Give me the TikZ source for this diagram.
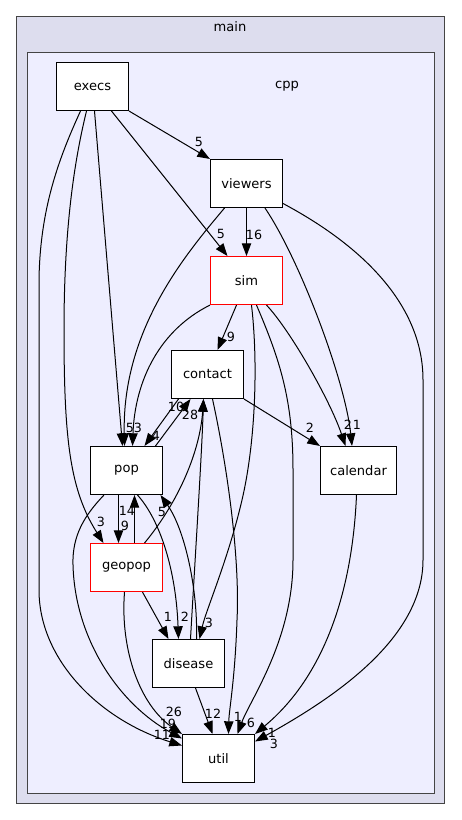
\documentclass[tikz,border=0pt]{standalone}
\usepackage{fontspec}
\setmainfont{DejaVu Sans}
\usetikzlibrary{positioning, arrows.meta, calc}

\definecolor{mainfill}{HTML}{DDDDEE}
\definecolor{cppfill}{HTML}{EEEEFF}
\definecolor{clusterline}{HTML}{444444}

\begin{document}
\begin{tikzpicture}[
    x=0.75pt, y=-0.75pt, %% one unit is one pixel, y runs down
    node distance=36pt and 30pt,
    dirbox/.style={
        rectangle,
        draw=black,
        line width=0.8pt,
        fill=white,
        font=\fontsize{9.8}{11}\selectfont,
        minimum width=54pt,
        minimum height=36pt,
        inner sep=2pt
    },
    redbox/.style={
        dirbox,
        draw=red
    },
    cluster/.style={
        draw=clusterline,
        line width=1pt
    },
    dep/.style={
        -{Triangle[length=9.5pt,width=7pt]},
        line width=0.75pt
    },
    lbl/.style={
        font=\fontsize{9.5}{10}\selectfont,
        inner sep=0pt
    }
]

\useasboundingbox (0,0) rectangle (461,820);

%% Clusters
\draw[cluster, fill=mainfill] (16.5,16.5) rectangle (444.5,803.5);
\node[lbl, font=\fontsize{9.8}{11}\selectfont] (mainlbl) at (230,27) {main};
\draw[cluster, fill=cppfill] (27.5,52.5) rectangle (434.5,793.5);
\node[lbl, font=\fontsize{9.8}{11}\selectfont] (cpplbl) at (287,86) {cpp};

%% Directory Nodes
\node[dirbox] (execs) at (92.5,86.5) {execs};
\node[dirbox] (viewers) at (246.5,183.5) {viewers};
\node[redbox, below=of viewers] (sim) {sim};
\node[dirbox] (contact) at (207.5,374.5) {contact};
\node[dirbox] (pop) at (126.5,470.5) {pop};
\node[dirbox, minimum width=57pt] (calendar) at (358.5,470.5) {calendar};
\node[redbox, below=of pop] (geopop) {geopop};
\node[dirbox] (disease) at (188.5,663.5) {disease};
\node[dirbox] (util) at (218.5,758.5) {util};

%% From execs
\draw[dep] (execs.south east) -- (viewers.north west) node[lbl] at (199,142) {5};
\draw[dep] ($(execs.south)+(19,0)$) -- ($(sim.north)+(-19,0)$) node[lbl] at (221,234) {5};
\draw[dep] ($(execs.south)+(2,0)$) -- ($(pop.north)+(-4,0)$) node[lbl] at (130,428) {5};
\draw[dep] ($(execs.south)+(-6,0)$) .. controls (72,170) and (64,240) .. (64,330)
    .. controls (64,440) and (70,490) .. ($(geopop.north)+(-23,0)$) node[lbl] at (101,522) {3};
\draw[dep] ($(execs.south)+(-12,0)$) .. controls (58,160) and (40,210) .. (39,280)
    -- (39,590) .. controls (39,660) and (100,720) .. ($(util.west)+(0,-13)$) node[lbl] at (162,735) {11};

%% From viewers
\draw[dep] (viewers) -- (sim) node[lbl] at (254,235) {16};
\draw[dep] ($(viewers.south)+(-22,0)$) .. controls (185,255) and (122,330) .. ($(pop.north)+(-2,0)$);
\draw[dep] ($(viewers.south)+(18.5,0)$) .. controls (300,260) and (345,380) .. ($(calendar.north)+(-6.5,0)$) node[lbl] at (357,425) {1};
\draw[dep] ($(viewers.east)+(0,20)$) .. controls (370,250) and (423,310) .. (423,380)
    -- (423,560) .. controls (423,640) and (330,700) .. ($(util.east)+(0,-17)$) node[lbl] at (274,744) {3};

%% From sim
\draw[dep] ($(sim.south)+(-10,0)$) -- ($(contact.north)+(10,0)$) node[lbl] at (231,337) {9};
\draw[dep] (sim.south west) .. controls (160,330) and (135,380) .. ($(pop.north)+(6,0)$) node[lbl] at (138,428) {3};
\draw[dep] ($(sim.south)+(20,0)$) .. controls (290,330) and (330,400) .. ($(calendar.north)+(-13,0)$) node[lbl] at (348,425) {2};
\draw[dep] ($(sim.south)+(5,0)$) .. controls (258,360) and (256,440) .. (242,500)
    .. controls (228,560) and (206,610) .. ($(disease.north)+(11,0)$) node[lbl] at (209,623) {3};
\draw[dep] ($(sim.south)+(10,0)$) .. controls (280,360) and (293,400) .. (293,470)
    -- (293,560) .. controls (293,640) and (250,700) .. ($(util.north)+(19,0)$) node[lbl] at (251,723) {6};

%% From contact
\draw[dep] ($(contact.south)+(-29,0)$) -- ($(pop.north)+(18,0)$) node[lbl] at (156,436) {4};
\draw[dep] (contact.south east) -- (calendar.north west) node[lbl] at (310,428) {2};
\draw[dep] ($(contact.south)+(5,0)$) .. controls (228,470) and (240,560) .. (237,620)
    .. controls (235,680) and (229,710) .. ($(util.north)+(10,0)$) node[lbl] at (238,717) {1};

%% From pop
\draw[dep] ($(pop.north)+(29,0)$) -- ($(contact.south)+(-17,0)$) node[lbl] at (176,407) {10};
\draw[dep] ($(pop.south)+(-8,0)$) -- ($(geopop.north)+(-8,0)$) node[lbl] at (125,526) {9};
\draw[dep] ($(pop.south)+(11,0)$) .. controls (160,520) and (176,570) .. ($(disease.north)+(-10,0)$) node[lbl] at (185,617) {2};
\draw[dep] ($(pop.south west)+(14,0)$) .. controls (85,515) and (72,535) .. (73,565)
    .. controls (75,640) and (120,705) .. ($(util.west)+(0,-20)$) node[lbl] at (168,724) {19};

%% From geopop
\draw[dep] ($(geopop.north)+(8,0)$) -- ($(pop.south)+(8,0)$) node[lbl] at (127,511) {14};
\draw[dep] ($(geopop.north)+(18,0)$) .. controls (180,500) and (200,450) .. ($(contact.south)+(-4,0)$);
\draw[dep] ($(geopop.south)+(16,0)$) -- ($(disease.north)+(-20,0)$) node[lbl] at (168,617) {1};
\draw[dep] ($(geopop.south)+(-2,0)$) .. controls (120,650) and (140,705) .. (util.north west) node[lbl] at (174,712) {26};

%% From disease
\draw[dep] ($(disease.north)+(2,0)$) .. controls (195,560) and (202,450) .. ($(contact.south)+(-4,0)$) node[lbl] at (190,415) {28};
\draw[dep] ($(disease.north)+(8,0)$) .. controls (198,590) and (185,530) .. ($(pop.south)+(34,0)$) node[lbl] at (162,512) {5};
\draw[dep] ($(disease.south)+(7,0)$) -- ($(util.north)+(-6,0)$) node[lbl] at (213,714) {12};

%% From calendar
\draw[dep] ($(calendar.south)+(-2,0)$) .. controls (352,600) and (320,680) .. (util.north east) node[lbl] at (272,733) {1};

\end{tikzpicture}
\end{document}
